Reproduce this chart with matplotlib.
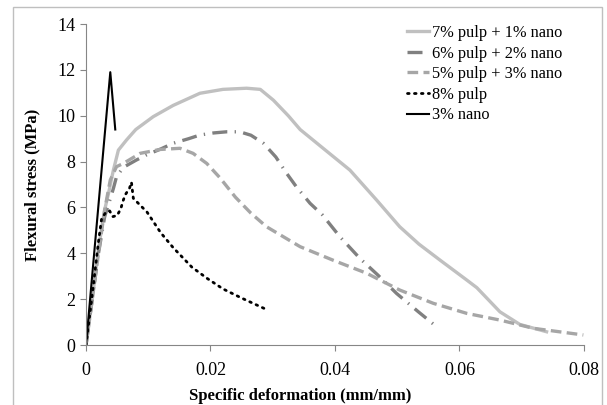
import matplotlib
matplotlib.use("Agg")
import matplotlib.pyplot as plt
from matplotlib.patches import Rectangle

# 7% pulp + 1% nano
x_p7n1 = [0, 0.001, 0.002, 0.003, 0.0036, 0.0044, 0.0052, 0.0065, 0.008, 0.0108, 0.014,
          0.0183, 0.022, 0.0258, 0.028, 0.0301, 0.0325, 0.0344, 0.0381, 0.0424, 0.0467,
          0.0504, 0.0535, 0.0569, 0.0612, 0.0628, 0.0665, 0.0697, 0.074]
y_p7n1 = [0, 2.0, 4.2, 5.9, 6.6, 7.63, 8.5, 8.94, 9.4, 9.96, 10.45,
          10.98, 11.15, 11.2, 11.15, 10.68, 10.0, 9.4, 8.58, 7.63, 6.32,
          5.16, 4.4, 3.7, 2.83, 2.5, 1.45, 0.9, 0.58]

# 6% pulp + 2% nano
x_p6n2 = [0, 0.001, 0.002, 0.003, 0.0038, 0.0044, 0.0049, 0.006, 0.0081, 0.0097, 0.012,
          0.014, 0.0165, 0.0183, 0.0205, 0.0226, 0.0247, 0.0265, 0.0285, 0.0305, 0.0322,
          0.0338, 0.036, 0.038, 0.0408, 0.044, 0.0469, 0.0499, 0.0534, 0.0566]
y_p6n2 = [0, 2.0, 4.0, 5.6, 6.3, 6.83, 7.34, 7.75, 8.07, 8.29, 8.55,
          8.8, 9.0, 9.16, 9.25, 9.3, 9.3, 9.15, 8.8, 8.2, 7.5,
          6.9, 6.18, 5.67, 4.72, 3.78, 3.05, 2.25, 1.45, 0.74]

# 5% pulp + 3% nano
x_p5n3 = [0, 0.001, 0.002, 0.003, 0.0039, 0.0049, 0.006, 0.0087, 0.0119, 0.0151, 0.0172,
          0.0194, 0.0215, 0.024, 0.0265, 0.029, 0.0344, 0.0397, 0.0451, 0.0504, 0.0558,
          0.0612, 0.0665, 0.0719, 0.0799]
y_p5n3 = [0, 2.0, 4.0, 5.9, 7.2, 7.78, 7.92, 8.36, 8.53, 8.58, 8.36,
          7.92, 7.3, 6.45, 5.75, 5.16, 4.29, 3.7, 3.13, 2.4, 1.82,
          1.38, 1.09, 0.73, 0.44]

# 8% pulp
x_p8 = [0, 0.001, 0.002, 0.0025, 0.0032, 0.0038, 0.0043, 0.005, 0.0056, 0.0059, 0.0063,
        0.007, 0.0073, 0.0076, 0.0087, 0.0098, 0.012, 0.014, 0.017, 0.0195, 0.022, 0.025, 0.029]
y_p8 = [0, 2.2, 4.5, 5.5, 5.8, 5.85, 5.6, 5.65, 5.95, 6.25, 6.55,
        6.85, 7.1, 6.4, 6.1, 5.8, 4.9, 4.25, 3.4, 2.9, 2.45, 2.05, 1.55]

# 3% nano
x_n3 = [0, 0.0039, 0.0047]
y_n3 = [0, 11.9, 9.4]

labels = ["7% pulp + 1% nano", "6% pulp + 2% nano", "5% pulp + 3% nano", "8% pulp", "3% nano"]

plt.rcParams['font.family'] = ['Liberation Serif', 'DejaVu Serif']

fig = plt.figure(figsize=(6.07, 4.05), dpi=100)
ax = fig.add_axes([0.1417, 0.148, 0.8203, 0.7927])

# outer chart border
fig.patches.append(Rectangle((13 / 607, -0.05), 589 / 607, 1.05 - 7 / 405,
                             transform=fig.transFigure, fill=False,
                             edgecolor='#bfbfbf', linewidth=1))

ax.plot(x_p7n1, y_p7n1, color='#c0c0c0', linewidth=2.4, label=labels[0])
ax.plot(x_p6n2, y_p6n2, color='#808080', linewidth=2.4, dashes=(4.5, 2.2, 0.4, 2.2),
        label=labels[1])
ax.plot(x_p5n3, y_p5n3, color='#a6a6a6', linewidth=2.4, dashes=(3.2, 1.6), label=labels[2])
ax.plot(x_p8, y_p8, color='black', linewidth=2.0, dashes=(0.6, 1.9),
        dash_capstyle='round', label=labels[3])
ax.plot(x_n3, y_n3, color='black', linewidth=1.5, label=labels[4])

ax.set_xlim(0, 0.08)
ax.set_ylim(0, 14)
ax.set_xticks([0, 0.02, 0.04, 0.06, 0.08])
ax.set_xticklabels(["0", "0.02", "0.04", "0.06", "0.08"])
ax.set_yticks(range(0, 15, 2))

ax.spines['top'].set_visible(False)
ax.spines['right'].set_visible(False)
for s in ['left', 'bottom']:
    ax.spines[s].set_color('#868686')
ax.tick_params(axis='both', colors='#868686', labelcolor='black', labelsize=13,
               length=4, direction='out')
ax.tick_params(axis='x', pad=8)

ax.set_xlabel('Specific deformation (mm/mm)', fontsize=12, fontweight='bold')
ax.set_ylabel('Flexural stress (MPa)', fontsize=12, fontweight='bold')
ax.xaxis.set_label_coords((300 - 86) / 498, -0.135)
ax.yaxis.set_label_coords(-0.092, 0.5)

ax.legend(loc='upper left', bbox_to_anchor=(407 / 607, 1 - 25 / 405),
          bbox_transform=fig.transFigure, frameon=False, fontsize=11.8,
          handlelength=1.35, handletextpad=0.15, labelspacing=0.28,
          borderpad=0, borderaxespad=0)

fig.savefig('out.png', dpi=100)
